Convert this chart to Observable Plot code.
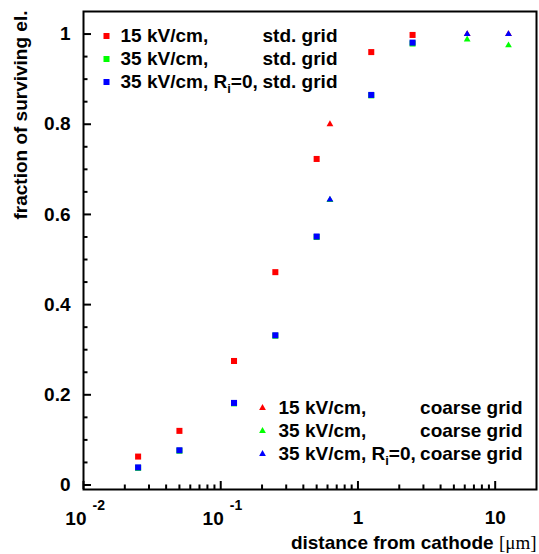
<!DOCTYPE html>
<html>
<head>
<meta charset="utf-8">
<script src="https://cdn.jsdelivr.net/npm/d3@7"></script>
<script src="https://cdn.jsdelivr.net/npm/@observablehq/plot@0.6"></script>
<style>
  html, body { margin: 0; padding: 0; background: #fff; }
  #chart svg { display: block; }
</style>
</head>
<body>
<div id="chart"></div>
<script>
// ---- data ----
const distStd = [0.025, 0.05, 0.125, 0.25, 0.5, 1.25, 2.5];
const std15 = [0.063, 0.120, 0.275, 0.472, 0.723, 0.960, 0.998];
const std35 = [0.038, 0.076, 0.181, 0.331, 0.550, 0.864, 0.979];
const std35Ri0 = [0.039, 0.077, 0.182, 0.332, 0.551, 0.865, 0.981];

const distCoarse = [0.625, 6.25, 12.5];
const coarse15 = [0.800, 1.000, 1.000];
const coarse35 = [0.632, 0.988, 0.975];
const coarse35Ri0 = [0.633, 1.000, 1.000];

const seriesColors = ["#ff0000", "#00ff00", "#0000ff"];
const legendFields = ["15 kV/cm,", "35 kV/cm,", "35 kV/cm, R_i=0,"];
const legendStdGrid = "std. grid";
const legendCoarseGrid = "coarse grid";

const yMajorTicks = [0, 0.2, 0.4, 0.6, 0.8, 1];
const yMajorLabels = ["0", "0.2", "0.4", "0.6", "0.8", "1"];
const yMinorTicks = [0.05, 0.1, 0.15, 0.25, 0.3, 0.35, 0.45, 0.5, 0.55, 0.65, 0.7, 0.75, 0.85, 0.9, 0.95];
const xMajorTicks = [0.01, 0.1, 1, 10];
const xMajorBase = ["10", "10", "1", "10"];
const xMajorExp = ["-2", "-1", "", ""];
const xMinorTicks = [0.02, 0.03, 0.04, 0.05, 0.06, 0.07, 0.08, 0.09,
                     0.2, 0.3, 0.4, 0.5, 0.6, 0.7, 0.8, 0.9,
                     2, 3, 4, 5, 6, 7, 8, 9];
const xTitle = "distance from cathode [μm]";
const yTitle = "fraction of surviving el.";

// ---- build tables ----
const toRows = (xs, ys, s) => xs.map((x, i) => ({x, y: ys[i], s}));
const squares = [
  ...toRows(distStd, std35, 1),
  ...toRows(distStd, std15, 0),
  ...toRows(distStd, std35Ri0, 2)
];
const triangles = [
  ...toRows(distCoarse, coarse15, 0),
  ...toRows(distCoarse, coarse35, 1),
  ...toRows(distCoarse, coarse35Ri0, 2)
];

const W = 539, H = 554;
const mL = 83, mR = 3, mT = 11, mB = 65;
const frameW = W - mL - mR, frameH = H - mT - mB;
const FONT = 19;
const bold = {fontSize: FONT, fontWeight: "bold", fill: "black", lineAnchor: "middle"};

const marks = [
  // ticks (inward)
  Plot.tickX(xMajorTicks, {x: d => d, stroke: "black", strokeWidth: 2, insetTop: frameH - 8}),
  Plot.tickX(xMinorTicks, {x: d => d, stroke: "black", strokeWidth: 2, insetTop: frameH - 4.5}),
  Plot.tickY(yMajorTicks, {y: d => d, stroke: "black", strokeWidth: 2, insetRight: frameW - 8}),
  Plot.tickY(yMinorTicks, {y: d => d, stroke: "black", strokeWidth: 2, insetRight: frameW - 4.5}),
  Plot.frame({stroke: "black", strokeWidth: 2}),
  // tick labels
  Plot.text(yMajorTicks, {y: d => d, text: (d, i) => yMajorLabels[i], frameAnchor: "left", textAnchor: "end", dx: -13, ...bold}),
  Plot.text(xMajorTicks, {x: d => d, text: (d, i) => xMajorBase[i], frameAnchor: "bottom",
    textAnchor: "middle", dy: 28, ...bold, filter: (d, i) => xMajorExp[i] === ""}),
  Plot.text(xMajorTicks, {x: d => d, text: (d, i) => xMajorBase[i], frameAnchor: "bottom",
    textAnchor: "end", dx: 3, dy: 29, ...bold, filter: (d, i) => xMajorExp[i] !== ""}),
  Plot.text(xMajorTicks, {x: d => d, text: (d, i) => xMajorExp[i], frameAnchor: "bottom",
    textAnchor: "start", dx: 9, dy: 16, fontSize: 14, fontWeight: "bold", fill: "black", lineAnchor: "middle",
    filter: (d, i) => xMajorExp[i] !== ""}),
  // axis titles
  Plot.text([xTitle], {text: d => d, frameAnchor: "bottom-right", textAnchor: "end", dy: 53, ...bold}),
  Plot.text([yTitle], {text: d => d, frameAnchor: "top-left", textAnchor: "end", rotate: -90, dx: -63, dy: -1, ...bold}),
  // data
  Plot.dot(squares, {x: "x", y: "y", symbol: "square", r: 3.4, fill: d => seriesColors[d.s], stroke: "none"}),
  Plot.dot(triangles, {x: "x", y: "y", symbol: "triangle", r: 2.5, fill: d => seriesColors[d.s], stroke: "none"})
];

// legends
legendFields.forEach((label, i) => {
  marks.push(
    Plot.dot([0], {frameAnchor: "top-left", dx: 23, dy: 24.5 + i * 23, symbol: "square", r: 3.4, fill: seriesColors[i], stroke: "none"}),
    Plot.text([label], {text: d => d, frameAnchor: "top-left", textAnchor: "start", dx: 37, dy: 24.5 + i * 23, ...bold}),
    Plot.text([legendStdGrid], {text: d => d, frameAnchor: "top-left", textAnchor: "end", dx: 254, dy: 24.5 + i * 23, ...bold}),
    Plot.dot([0], {frameAnchor: "bottom-left", dx: 179, dy: -81.5 + i * 23, symbol: "triangle", r: 2.5, fill: seriesColors[i], stroke: "none"}),
    Plot.text([label], {text: d => d, frameAnchor: "bottom-left", textAnchor: "start", dx: 195, dy: -81.5 + i * 23, ...bold}),
    Plot.text([legendCoarseGrid], {text: d => d, frameAnchor: "bottom-right", textAnchor: "end", dx: -14, dy: -81.5 + i * 23, ...bold})
  );
});

const chart = Plot.plot({
  width: W, height: H,
  marginLeft: mL, marginRight: mR, marginTop: mT, marginBottom: mB,
  style: {fontFamily: "'Liberation Sans', Arial, Helvetica, sans-serif", background: "#fff", overflow: "visible"},
  x: {type: "log", domain: [0.01, 20], axis: null},
  y: {domain: [-0.01, 1.05], axis: null},
  marks
});

// subscripts and the serif unit
const NS = "http://www.w3.org/2000/svg";
chart.querySelectorAll("text").forEach(t => {
  const s = t.textContent;
  if (s.includes("R_i")) {
    const [a, b] = s.split("R_i");
    t.textContent = "";
    const t1 = document.createElementNS(NS, "tspan"); t1.textContent = a + "R";
    const t2 = document.createElementNS(NS, "tspan"); t2.textContent = "i";
    t2.setAttribute("font-size", "13"); t2.setAttribute("dy", "5");
    const t3 = document.createElementNS(NS, "tspan"); t3.textContent = b;
    t3.setAttribute("dy", "-5");
    t.append(t1, t2, t3);
  } else if (s.includes("[μm]")) {
    const [a] = s.split("[μm]");
    t.textContent = "";
    const t1 = document.createElementNS(NS, "tspan"); t1.textContent = a;
    const t2 = document.createElementNS(NS, "tspan"); t2.textContent = "[μm]";
    t2.setAttribute("font-family", "'Liberation Serif', 'DejaVu Serif', serif");
    t2.setAttribute("font-weight", "normal");
    t.append(t1, t2);
  }
});

document.getElementById("chart").appendChild(chart);
</script>
</body>
</html>
